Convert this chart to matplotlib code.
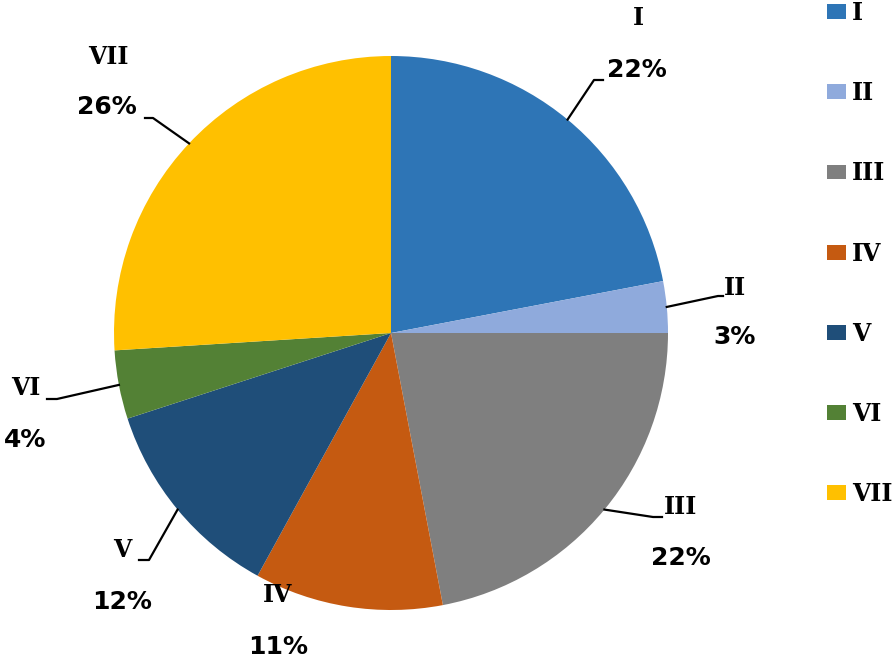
import numpy as np
import matplotlib
matplotlib.use('Agg')
import matplotlib.pyplot as plt
from matplotlib.patches import Patch

labels = ["I", "II", "III", "IV", "V", "VI", "VII"]
shares = [22, 3, 22, 11, 12, 4, 26]
colors = ["#2E75B6", "#8FAADC", "#7F7F7F", "#C55A11", "#1F4E79", "#538135", "#FFC000"]

W, H = 894, 660
cx, cy, R = 391, 333, 277

# label text centres (px), elbow point of leader (px) or None
name_pos = [(638, 18), (735, 288), (681, 507), (278, 595), (122, 550), (26, 388), (108, 57)]
pct_pos = [(637, 70), (735, 337), (681, 558), (278, 647), (122, 602), (25, 440), (107, 107)]
elbows = [((594, 80), (603, 80)), ((718, 296), (723, 296)), ((653, 517), (662, 517)), None,
          ((149, 560), (139, 560)), ((57, 399), (47, 399)), ((153, 118), (145, 118))]


def px2d(p):
    return ((p[0] - cx) / R, (cy - p[1]) / R)


fig = plt.figure(figsize=(W / 100, H / 100), dpi=100)
ax = fig.add_axes([(cx - R) / W, (H - cy - R) / H, 2 * R / W, 2 * R / H])
wedges, _ = ax.pie(shares, colors=colors, startangle=90, counterclock=False,
                   radius=1, wedgeprops=dict(linewidth=0))
ax.set_xlim(-1, 1)
ax.set_ylim(-1, 1)
ax.set_aspect('equal')
ax.axis('off')

cum = np.cumsum([0] + shares)
for i, lab in enumerate(labels):
    mid = np.deg2rad(90 - (cum[i] + shares[i] / 2) / 100 * 360)
    if elbows[i] is not None:
        e1 = px2d(elbows[i][0])
        e2 = px2d(elbows[i][1])
        ax.plot([np.cos(mid), e1[0], e2[0]], [np.sin(mid), e1[1], e2[1]],
                color='black', lw=1.6, clip_on=False)
    nx, ny = px2d(name_pos[i])
    ax.text(nx, ny, lab, ha='center', va='center', fontsize=17,
            fontfamily='DejaVu Serif', fontweight='bold', clip_on=False)
    qx, qy = px2d(pct_pos[i])
    ax.text(qx, qy, str(shares[i]) + "%", ha='center', va='center', fontsize=18,
            fontfamily='DejaVu Sans', fontweight='bold', clip_on=False)

handles = [Patch(facecolor=c, edgecolor='none') for c in colors]
fig.legend(handles, labels, loc='upper left', bbox_to_anchor=(827 / W, 1 - 1 / H),
           frameon=False, handlelength=0.8, handleheight=0.59, handletextpad=0.25,
           labelspacing=2.38, borderaxespad=0, borderpad=0,
           prop=dict(family='DejaVu Serif', weight='bold', size=17))

plt.savefig("out.png", dpi=100)
